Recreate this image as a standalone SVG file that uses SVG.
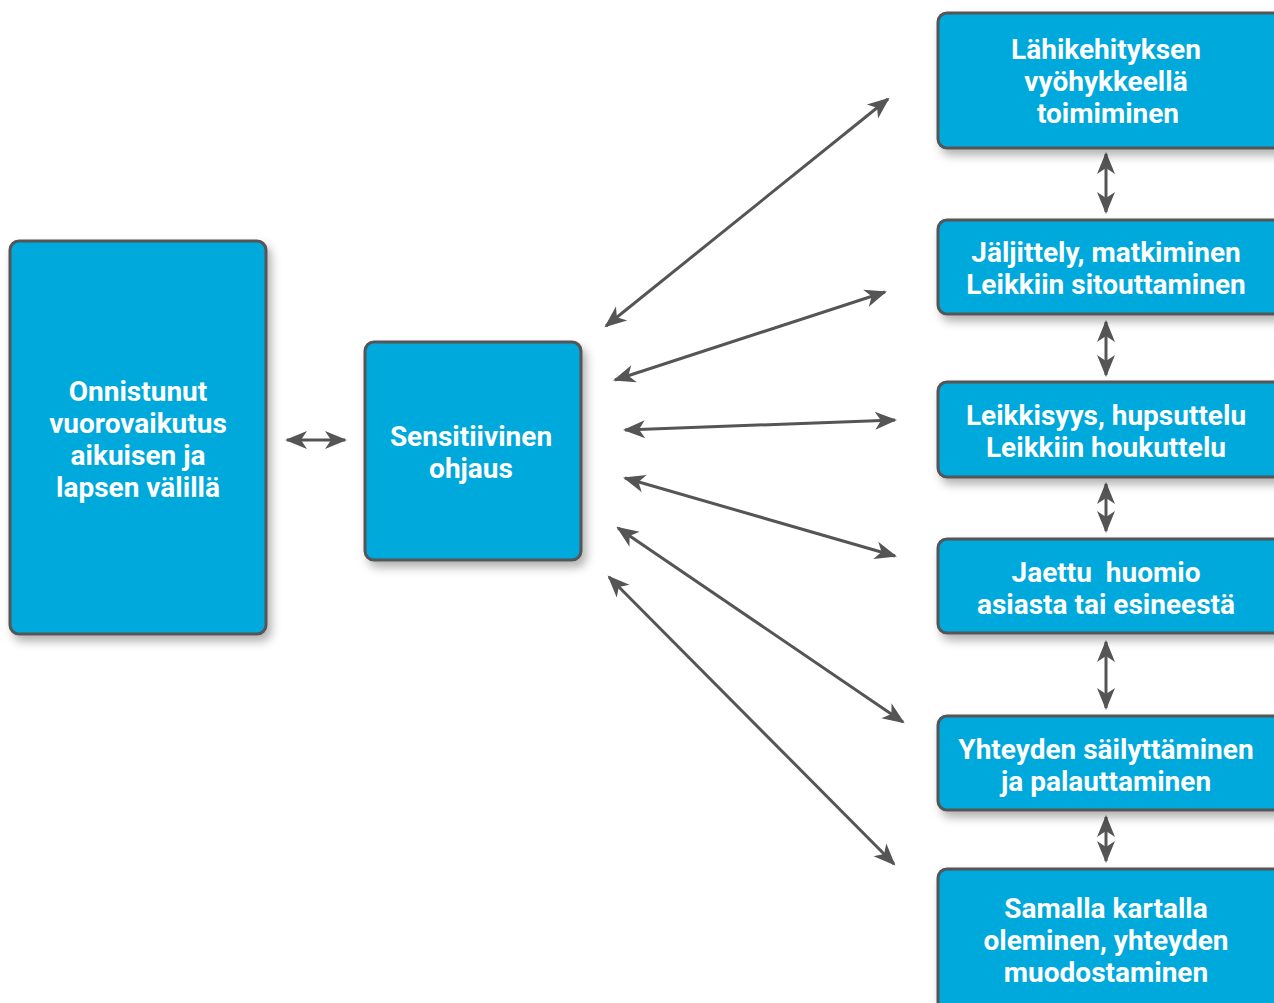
<svg xmlns="http://www.w3.org/2000/svg" width="1274" height="1003" viewBox="0 0 1274 1003">
<defs>
<filter id="sh" x="-20%" y="-20%" width="140%" height="140%">
<feDropShadow dx="4" dy="6" stdDeviation="5" flood-color="#000" flood-opacity="0.3"/>
</filter>
<marker id="ah" viewBox="-23 -10 25 20" refX="-1" refY="0" markerWidth="25" markerHeight="20" markerUnits="userSpaceOnUse" orient="auto-start-reverse">
<path d="M1,0 L-21,-9 L-15,0 L-21,9 Z" fill="#555"/>
</marker>
<style>
.box{fill:#00a9dc;stroke:#555;stroke-width:3;filter:url(#sh)}
.t{font-family:Roboto,"Liberation Sans",sans-serif;font-weight:700;font-size:28px;fill:#fff;text-anchor:middle}
.c{stroke:#555;stroke-width:3;fill:none;marker-start:url(#ah);marker-end:url(#ah)}
</style>
</defs>
<rect width="1274" height="1003" fill="#fff"/>
<g id="connectors">
<line class="c" x1="287" y1="440" x2="345" y2="440"/>
<line class="c" x1="606" y1="326" x2="888" y2="99"/>
<line class="c" x1="615" y1="380" x2="885" y2="292"/>
<line class="c" x1="625" y1="430" x2="895" y2="420"/>
<line class="c" x1="625" y1="478" x2="895" y2="556"/>
<line class="c" x1="618" y1="528" x2="903" y2="722"/>
<line class="c" x1="609" y1="577" x2="894" y2="864"/>
<line class="c" x1="1106" y1="154" x2="1106" y2="212"/>
<line class="c" x1="1106" y1="322" x2="1106" y2="375"/>
<line class="c" x1="1106" y1="484" x2="1106" y2="531"/>
<line class="c" x1="1106" y1="642" x2="1106" y2="708"/>
<line class="c" x1="1106" y1="817" x2="1106" y2="861"/>
</g>
<g id="n-left">
<rect class="box" x="10" y="241" width="256" height="393" rx="9"/>
<text class="t"><tspan x="138" y="401">Onnistunut</tspan><tspan x="138" y="433">vuorovaikutus</tspan><tspan x="138" y="465">aikuisen ja</tspan><tspan x="138" y="497">lapsen välillä</tspan></text>
</g>
<g id="n-mid">
<rect class="box" x="365" y="342" width="216" height="218" rx="9"/>
<text class="t"><tspan x="471" y="446">Sensitiivinen</tspan><tspan x="471" y="478">ohjaus</tspan></text>
</g>
<g id="n1">
<rect class="box" x="938" y="13" width="350" height="135" rx="9"/>
<text class="t"><tspan x="1106" y="59">Lähikehityksen</tspan><tspan x="1106" y="91">vyöhykkeellä</tspan><tspan x="1108" y="123">toimiminen</tspan></text>
</g>
<g id="n2">
<rect class="box" x="938" y="220" width="350" height="94" rx="9"/>
<text class="t"><tspan x="1106" y="262">Jäljittely, matkiminen</tspan><tspan x="1106" y="294">Leikkiin sitouttaminen</tspan></text>
</g>
<g id="n3">
<rect class="box" x="938" y="382" width="350" height="95" rx="9"/>
<text class="t"><tspan x="1106" y="425">Leikkisyys, hupsuttelu</tspan><tspan x="1106" y="457">Leikkiin houkuttelu</tspan></text>
</g>
<g id="n4">
<rect class="box" x="938" y="539" width="350" height="94" rx="9"/>
<text class="t"><tspan x="1106" y="582" xml:space="preserve">Jaettu  huomio</tspan><tspan x="1106" y="614">asiasta tai esineestä</tspan></text>
</g>
<g id="n5">
<rect class="box" x="938" y="716" width="350" height="94" rx="9"/>
<text class="t"><tspan x="1106" y="759">Yhteyden säilyttäminen</tspan><tspan x="1106" y="791">ja palauttaminen</tspan></text>
</g>
<g id="n6">
<rect class="box" x="938" y="869" width="350" height="150" rx="9"/>
<text class="t"><tspan x="1106" y="918">Samalla kartalla</tspan><tspan x="1106" y="950">oleminen, yhteyden</tspan><tspan x="1106" y="982">muodostaminen</tspan></text>
</g>
</svg>
